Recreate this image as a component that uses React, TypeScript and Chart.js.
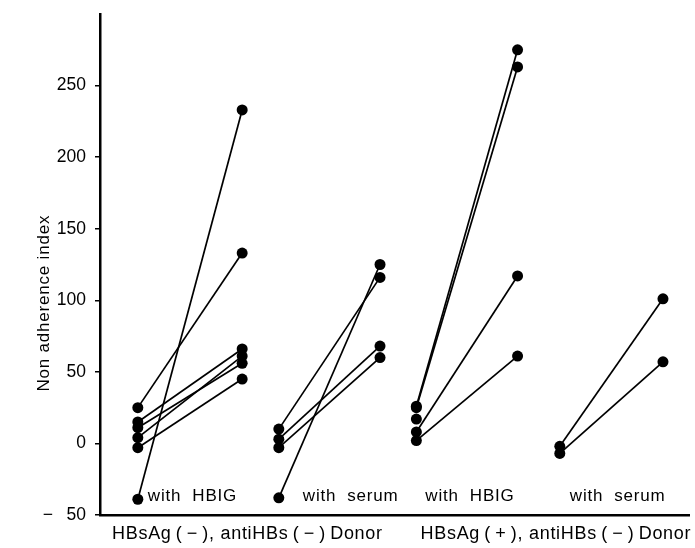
import React, { useEffect, useRef } from "react";
import { Chart, registerables } from "chart.js";

Chart.register(...registerables);

// Category (treatment) labels and donor groups
const treatmentLabels = ["with  HBIG", "with  serum", "with  HBIG", "with  serum"];
const donorLabels = [
  "HBsAg\u2009(\u2009\u2212\u2009), antiHBs\u2009(\u2009\u2212\u2009)\u2009Donor",
  "HBsAg\u2009(\u2009+\u2009), antiHBs\u2009(\u2009\u2212\u2009)\u2009Donor",
];
const donorCenters = [1.5, 4.64];

// x positions of the "before" and "after" columns for each treatment group
const beforeX = [0.385, 1.82, 3.22, 4.68];
const afterX = [1.447, 2.85, 4.25, 5.73];

// Paired values (before -> after); null = no paired value
const g1Before = [25, 15, 11, 4, -3, -39];
const g1After = [133, 66, 56, 61, 45, 233];
const g2Before = [10, 3, -3, -38];
const g2After = [116, 68, 60, 125];
const g3Before = [26, 25, 17, 8, 2];
const g3After = [275, 263, null, 117, 61];
const g4Before = [-2, -7];
const g4After = [101, 57];

const yTicks = [-50, 0, 50, 100, 150, 200, 250];
const yTitle = "Non adherence index";

const groups = [
  [g1Before, g1After],
  [g2Before, g2After],
  [g3Before, g3After],
  [g4Before, g4After],
];

const FONT = "'Liberation Sans', Arial, sans-serif";

export default function App() {
  const ref = useRef<HTMLCanvasElement | null>(null);

  useEffect(() => {
    if (!ref.current) return;
    const datasets: any[] = [];
    groups.forEach(([b, a], gi) => {
      b.forEach((v, i) => {
        datasets.push({
          data: [
            { x: beforeX[gi], y: v },
            { x: afterX[gi], y: a[i] },
          ],
          borderColor: "#000",
          backgroundColor: "#000",
          borderWidth: 1.7,
          pointRadius: 5.5,
          pointBorderWidth: 0,
          pointBackgroundColor: "#000",
          showLine: true,
          spanGaps: false,
        });
      });
    });

    const labelOffsets = [10, 24, 9, 10];

    const textPlugin = {
      id: "texts",
      afterDraw(chart: any) {
        const { ctx, chartArea, scales } = chart;
        const xs = scales.x;
        ctx.save();
        ctx.fillStyle = "#000";
        ctx.letterSpacing = "0.8px";
        ctx.font = `17px ${FONT}`;
        ctx.textAlign = "left";
        ctx.textBaseline = "middle";
        treatmentLabels.forEach((t, i) => {
          const px = xs.getPixelForValue(beforeX[i]) + labelOffsets[i];
          ctx.fillText(t, px, chartArea.bottom - 19);
        });
        // donor labels under the x axis
        ctx.letterSpacing = "0.7px";
        ctx.font = `18px ${FONT}`;
        ctx.textAlign = "center";
        ctx.textBaseline = "alphabetic";
        donorLabels.forEach((t, i) => {
          ctx.fillText(t, xs.getPixelForValue(donorCenters[i]), chartArea.bottom + 23.5);
        });
        // y axis title
        ctx.letterSpacing = "0.8px";
        ctx.font = `17px ${FONT}`;
        ctx.textBaseline = "middle";
        ctx.translate(44, scales.y.getPixelForValue(98));
        ctx.rotate(-Math.PI / 2);
        ctx.textAlign = "center";
        ctx.fillText(yTitle, 0, 0);
        ctx.restore();
      },
    };

    const chart = new Chart(ref.current, {
      type: "scatter",
      data: { datasets },
      plugins: [textPlugin],
      options: {
        animation: false,
        responsive: false,
        layout: { padding: { top: 14, right: 2, left: 0, bottom: 0 } },
        plugins: { legend: { display: false }, tooltip: { enabled: false } },
        scales: {
          x: {
            type: "linear",
            min: 0,
            max: 6,
            afterFit: (s: any) => {
              s.height = 33;
              s.paddingLeft = 0;
              s.paddingRight = 0;
            },
            grid: { display: false, drawTicks: false },
            border: { display: true, color: "#000", width: 2.5 },
            ticks: { display: false },
          },
          y: {
            type: "linear",
            min: -50,
            max: 300,
            afterFit: (s: any) => {
              s.width = 100;
              s.paddingTop = 0;
              s.paddingBottom = 0;
            },
            afterBuildTicks: (s: any) => {
              s.ticks = yTicks.map((v) => ({ value: v }));
            },
            grid: {
              drawOnChartArea: false,
              drawTicks: true,
              tickLength: 5,
              color: "#000",
              lineWidth: 1.5,
            },
            border: { display: true, color: "#000", width: 2.5 },
            ticks: {
              padding: 9,
              color: "#000",
              font: { family: FONT, size: 17.5 },
              callback: (v: any) => (v < 0 ? "\u2212\u2002 " + Math.abs(v) : String(v)),
            },
          },
        },
      },
    });
    return () => chart.destroy();
  }, []);

  return (
    <div style={{ position: "absolute", left: 0, top: 0, width: 695, height: 548, background: "#fff" }}>
      <canvas ref={ref} width={695} height={548} style={{ width: 695, height: 548 }} />
    </div>
  );
}
